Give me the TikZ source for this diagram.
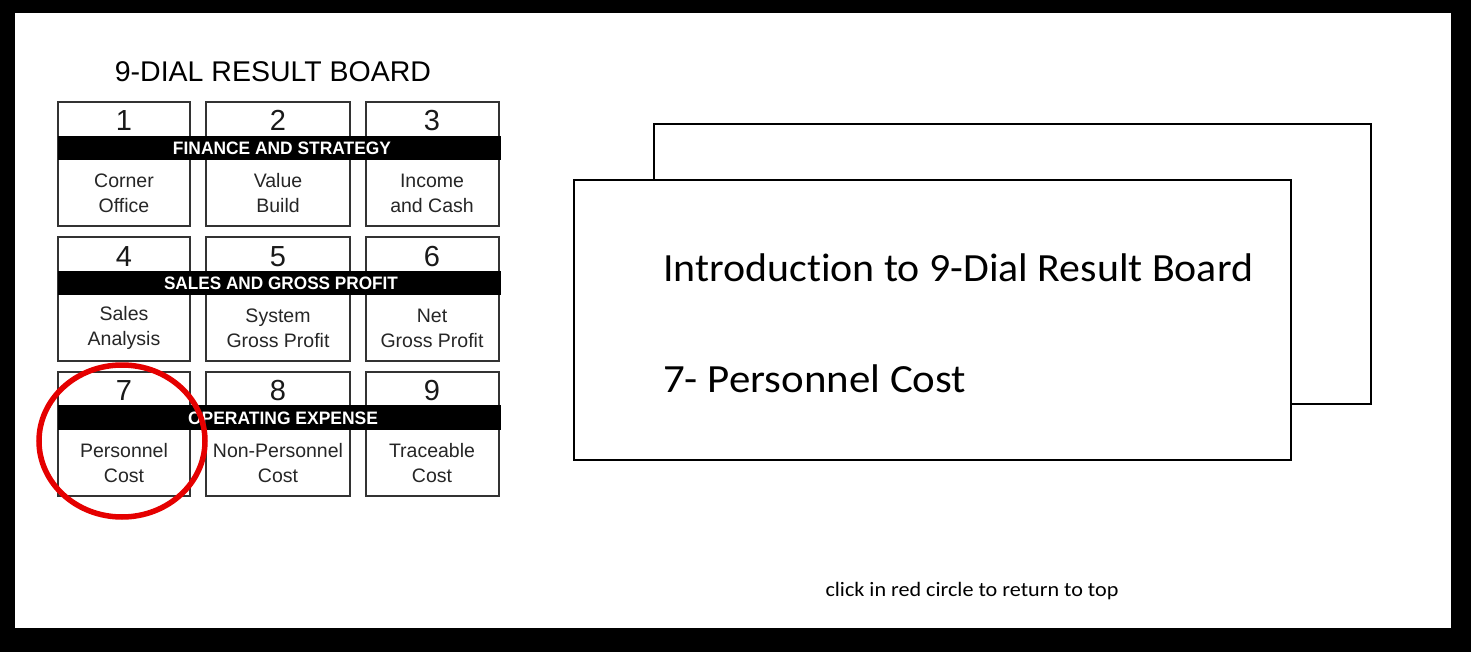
\documentclass[tikz,border=0pt]{standalone}
\usepackage{fontspec}
\setmainfont{Liberation Sans}
\newfontfamily\cardfont[Ligatures=NoCommon]{Carlito}
\usetikzlibrary{positioning}
\tikzset{
  dialbox/.style={draw=black!80, line width=1.6pt, fill=white},
  band/.style={fill=black, draw=none},
  bandtext/.style={text=white, font=\fontsize{18}{18}\selectfont\bfseries, inner sep=0pt},
  num/.style={font=\fontsize{29}{29}\selectfont, inner sep=0pt, text=black!90},
  lbl/.style={font=\fontsize{19.5}{25}\selectfont, align=center, inner sep=0pt, text=black!85},
  card/.style={draw=black, line width=1.2pt, fill=white},
  cardtext/.style={font=\cardfont\fontsize{40}{40}\selectfont, anchor=base west, inner sep=0pt},
}
\begin{document}
\begin{tikzpicture}[x=1pt,y=-1pt]
\useasboundingbox (0,0) rectangle (1471,652);
\fill[black] (0,0) rectangle (1471,652);
\fill[white] (15,13) rectangle (1451,628);

% title
\node[font=\fontsize{28.5}{28.5}\selectfont, anchor=base, inner sep=0pt] (title) at (273,82) {9-DIAL RESULT BOARD};

% boxes
\foreach \c/\xa/\xb in {1/58/190,2/206/350,3/366/499}{
  \foreach \r/\ya in {1/102,2/237,3/372}{
    \draw[dialbox] (\xa,\ya) rectangle (\xb,\ya+124);
  }
}
% bands
\fill[band] (58,136) rectangle (501,160);
\fill[band] (58,271) rectangle (501,295);
\fill[band] (58,405) rectangle (501,430);
\node[bandtext] (b1) at (282,148) {\resizebox{218pt}{\height}{FINANCE AND STRATEGY}};
\node[bandtext] (b2) at (281,283) {\resizebox{234pt}{\height}{SALES AND GROSS PROFIT}};
\node[bandtext] (b3) at (283,418) {\resizebox{190pt}{\height}{OPERATING EXPENSE}};

% numbers
\node[num, anchor=base] (n1) at (124,131) {1};
\node[num, anchor=base] (n2) at (278,131) {2};
\node[num, anchor=base] (n3) at (432,131) {3};
\node[num, anchor=base] (n4) at (124,266) {4};
\node[num, anchor=base] (n5) at (278,266) {5};
\node[num, anchor=base] (n6) at (432,266) {6};
\node[num, anchor=base] (n7) at (124,400) {7};
\node[num, anchor=base] (n8) at (278,400) {8};
\node[num, anchor=base] (n9) at (432,400) {9};

% labels
\node[lbl] (l1) at (124,193) {Corner\\Office};
\node[lbl] (l2) at (278,193) {Value\\Build};
\node[lbl] (l3) at (432,193) {Income\\and Cash};
\node[lbl] (l4) at (124,328) {Sales\\Analysis};
\node[lbl] (l5) at (278,328) {System\\Gross Profit};
\node[lbl] (l6) at (432,328) {Net\\Gross Profit};
\node[lbl] (l7) at (124,463) {Personnel\\Cost};
\node[lbl] (l8) at (278,463) {Non-Personnel\\Cost};
\node[lbl] (l9) at (432,463) {Traceable\\Cost};

% red circle
\draw[red!90!black, line width=5.5pt] (122,441) ellipse [x radius=83, y radius=76];

% cards
\draw[card] (654,124) rectangle (1371,404);
\draw[card] (574,180) rectangle (1291,460);
\node[cardtext] (t1) at (663,281) {\resizebox{590pt}{\height}{Introduction to 9-Dial Result Board}};
\node[cardtext] (t2) at (663,392) {\resizebox{303pt}{\height}{7- Personnel Cost}};

% footer
\node[font=\cardfont\fontsize{20.5}{20.5}\selectfont, anchor=base, inner sep=0pt] (foot) at (972,596) {\resizebox{293pt}{\height}{click in red circle to return to top}};
\end{tikzpicture}
\end{document}
